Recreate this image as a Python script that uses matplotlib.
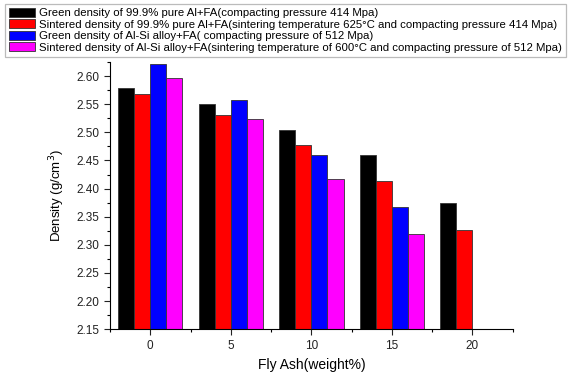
import matplotlib
matplotlib.use("Agg")
import matplotlib.pyplot as plt
import numpy as np
from matplotlib.ticker import MultipleLocator

plt.rcParams['font.family'] = ['Liberation Sans', 'DejaVu Sans']

fly_ash = [0, 5, 10, 15, 20]
labels = [
    "Green density of 99.9% pure Al+FA(compacting pressure 414 Mpa)",
    "Sintered density of 99.9% pure Al+FA(sintering temperature 625°C and compacting pressure 414 Mpa)",
    "Green density of Al-Si alloy+FA( compacting pressure of 512 Mpa)",
    "Sintered density of Al-Si alloy+FA(sintering temperature of 600°C and compacting pressure of 512 Mpa)",
]
green_al = [2.579, 2.551, 2.504, 2.459, 2.375]
sint_al = [2.568, 2.531, 2.478, 2.414, 2.326]
green_alsi = [2.621, 2.557, 2.460, 2.368, None]
sint_alsi = [2.596, 2.524, 2.417, 2.319, None]
series = [green_al, sint_al, green_alsi, sint_alsi]
colors = ["#000000", "#ff0000", "#0000ff", "#ff00ff"]

fig = plt.figure(figsize=(5.82, 3.74), dpi=100)
ax = fig.add_axes([0.189, 0.120, 0.692, 0.714])

base = 2.15
offsets = [-1.5, -0.5, 0.5, 1.5]
handles = []
for s, c, off, lab in zip(series, colors, offsets, labels):
    xs = [x + off for x, v in zip(fly_ash, s) if v is not None]
    vs = [v - base for v in s if v is not None]
    h = ax.bar(xs, vs, width=1.0, bottom=base, color=c, edgecolor="#333333",
               linewidth=0.6, label=lab)
    handles.append(h)

ax.set_xlim(-2.5, 22.5)
ax.set_ylim(2.15, 2.625)
ax.set_xticks(fly_ash)
ax.xaxis.set_minor_locator(MultipleLocator(2.5))
ax.yaxis.set_major_locator(MultipleLocator(0.05))
ax.yaxis.set_minor_locator(MultipleLocator(0.025))
ax.yaxis.set_major_formatter(matplotlib.ticker.FormatStrFormatter('%.2f'))
ax.spines['top'].set_visible(False)
ax.spines['right'].set_visible(False)
for sp in ['left', 'bottom']:
    ax.spines[sp].set_linewidth(0.8)
ax.tick_params(which='major', direction='out', length=4, width=0.8, labelsize=8.5, colors='#222222')
ax.tick_params(which='minor', direction='out', length=2.5, width=0.8)
ax.set_xlabel("Fly Ash(weight%)", fontsize=10, labelpad=5)
ax.set_ylabel("Density (g/cm$^3$)", fontsize=9.5, labelpad=7)

leg = fig.legend(handles=handles, labels=labels, loc='upper left',
                 bbox_to_anchor=(5 / 582, 1 - 4 / 374), fontsize=8.2, frameon=True,
                 fancybox=False, edgecolor='#aaaaaa', borderpad=0.35,
                 labelspacing=0.08, handlelength=2.3, handleheight=0.85,
                 handletextpad=0.35, borderaxespad=0.0)
leg.get_frame().set_linewidth(0.9)

fig.savefig("out.png", dpi=100)
